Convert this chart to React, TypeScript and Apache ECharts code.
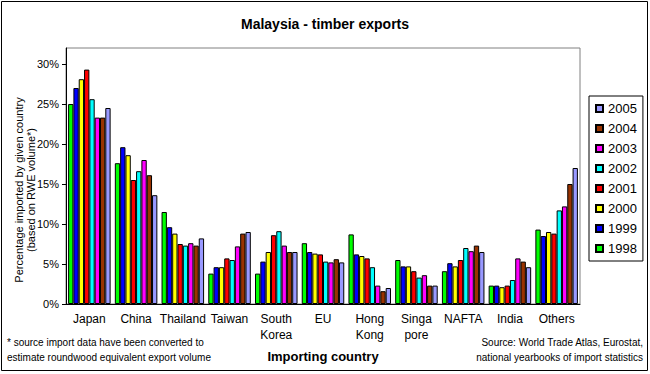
import React, { useEffect, useRef } from "react";
import * as echarts from "echarts";

const categories = ["Japan", "China", "Thailand", "Taiwan", "South\nKorea", "EU", "Hong\nKong", "Singa\npore", "NAFTA", "India", "Others"];
const years = ["1998", "1999", "2000", "2001", "2002", "2003", "2004", "2005"];
const colors = ["#00FF00", "#0000FF", "#FFFF00", "#FF0000", "#00FFFF", "#FF00FF", "#993300", "#9999FF"];

const v1998 = [25.0, 17.6, 11.5, 3.8, 3.8, 7.6, 8.7, 5.5, 4.1, 2.3, 9.3];
const v1999 = [27.0, 19.6, 9.6, 4.6, 5.3, 6.5, 6.2, 4.7, 5.1, 2.3, 8.5];
const v2000 = [28.1, 18.6, 8.8, 4.6, 6.5, 6.3, 6.0, 4.7, 4.7, 2.1, 9.0];
const v2001 = [29.3, 15.5, 7.5, 5.7, 8.6, 6.2, 5.7, 4.1, 5.5, 2.3, 8.8];
const v2002 = [25.6, 16.6, 7.3, 5.5, 9.1, 5.3, 4.6, 3.3, 7.0, 3.0, 11.7];
const v2003 = [23.3, 18.0, 7.6, 7.2, 7.3, 5.2, 2.3, 3.6, 6.6, 5.7, 12.2];
const v2004 = [23.3, 16.1, 7.3, 8.8, 6.5, 5.6, 1.6, 2.3, 7.3, 5.3, 15.0];
const v2005 = [24.5, 13.6, 8.2, 9.0, 6.5, 5.2, 2.0, 2.3, 6.5, 4.6, 17.0];

const seriesValues = [v1998, v1999, v2000, v2001, v2002, v2003, v2004, v2005];
const yTicks = [0, 5, 10, 15, 20, 25, 30];

const FONT = "'Liberation Sans', Arial, sans-serif";

export default function App() {
  const ref = useRef<HTMLDivElement>(null);
  useEffect(() => {
    document.body.style.margin = "0";
    const chart = echarts.init(ref.current!, undefined, { renderer: "svg" });
    const option: any = {
      animation: false,
      backgroundColor: "#fff",
      textStyle: { fontFamily: FONT, color: "#000" },
      title: {
        text: "Malaysia - timber exports",
        left: "center",
        top: 12,
        textStyle: { fontFamily: FONT, fontSize: 14, fontWeight: "bold", color: "#000" },
      },
      grid: { left: 66, right: 70, top: 48, bottom: 70, show: true, borderColor: "#808080", borderWidth: 1 },
      legend: {
        orient: "vertical",
        left: 589,
        top: 96,
        width: 55,
        data: years.slice().reverse(),
        itemWidth: 7,
        itemHeight: 7,
        itemGap: 7,
        padding: [6, 6, 6, 6],
        borderColor: "#000",
        borderWidth: 1,
        backgroundColor: "#fff",
        icon: "rect",
        textStyle: { fontFamily: FONT, fontSize: 13, color: "#000", padding: [0, 0, 0, 0] },
      },
      xAxis: {
        type: "category",
        data: categories,
        axisLine: { lineStyle: { color: "#000", width: 1 } },
        axisTick: { show: false },
        axisLabel: { fontFamily: FONT, fontSize: 12, color: "#000", margin: 7, lineHeight: 16, interval: 0 },
      },
      yAxis: {
        type: "value",
        min: 0,
        max: 32,
        interval: 5,
        splitLine: { show: false },
        axisLine: { show: true, lineStyle: { color: "#000", width: 1 } },
        axisTick: { show: true, length: 4, lineStyle: { color: "#000" }, customValues: yTicks },
        axisLabel: {
          fontFamily: FONT,
          fontSize: 11,
          color: "#000",
          margin: 7,
          customValues: yTicks,
          formatter: (v: number) => v + "%",
        },
      },
      series: years.map((y, i) => ({
        name: y,
        type: "bar",
        data: seriesValues[i],
        barGap: "0%",
        barCategoryGap: "9%",
        itemStyle: { color: colors[i], borderColor: "#000", borderWidth: 1 },
      })),
      graphic: [
        {
          type: "rect",
          shape: { x: 1.5, y: 1.5, width: 646, height: 369 },
          style: { fill: "none", stroke: "#000", lineWidth: 1 },
          silent: true,
          z: -1,
        },
        {
          type: "text",
          x: 25,
          y: 190,
          rotation: Math.PI / 2,
          style: {
            text: "Percentage imported by given country\n(based on RWE volume*)",
            font: `11px ${FONT}`,
            fill: "#000",
            align: "center",
            verticalAlign: "middle",
            lineHeight: 12,
          },
        },
        {
          type: "text",
          x: 323,
          y: 356,
          style: {
            text: "Importing country",
            font: `bold 13px ${FONT}`,
            fill: "#000",
            align: "center",
            verticalAlign: "middle",
          },
        },
        {
          type: "text",
          x: 7,
          y: 350,
          style: {
            text: "* source import data have been converted to\nestimate roundwood equivalent export volume",
            font: `10px ${FONT}`,
            fill: "#000",
            align: "left",
            verticalAlign: "middle",
            lineHeight: 15,
          },
        },
        {
          type: "text",
          x: 643,
          y: 350,
          style: {
            text: "Source: World Trade Atlas, Eurostat,\nnational yearbooks of import statistics",
            font: `10px ${FONT}`,
            fill: "#000",
            align: "right",
            verticalAlign: "middle",
            lineHeight: 15,
          },
        },
      ],
    };
    chart.setOption(option);
    return () => chart.dispose();
  }, []);
  return <div ref={ref} style={{ width: 650, height: 374, position: "absolute", left: 0, top: 0 }} />;
}
